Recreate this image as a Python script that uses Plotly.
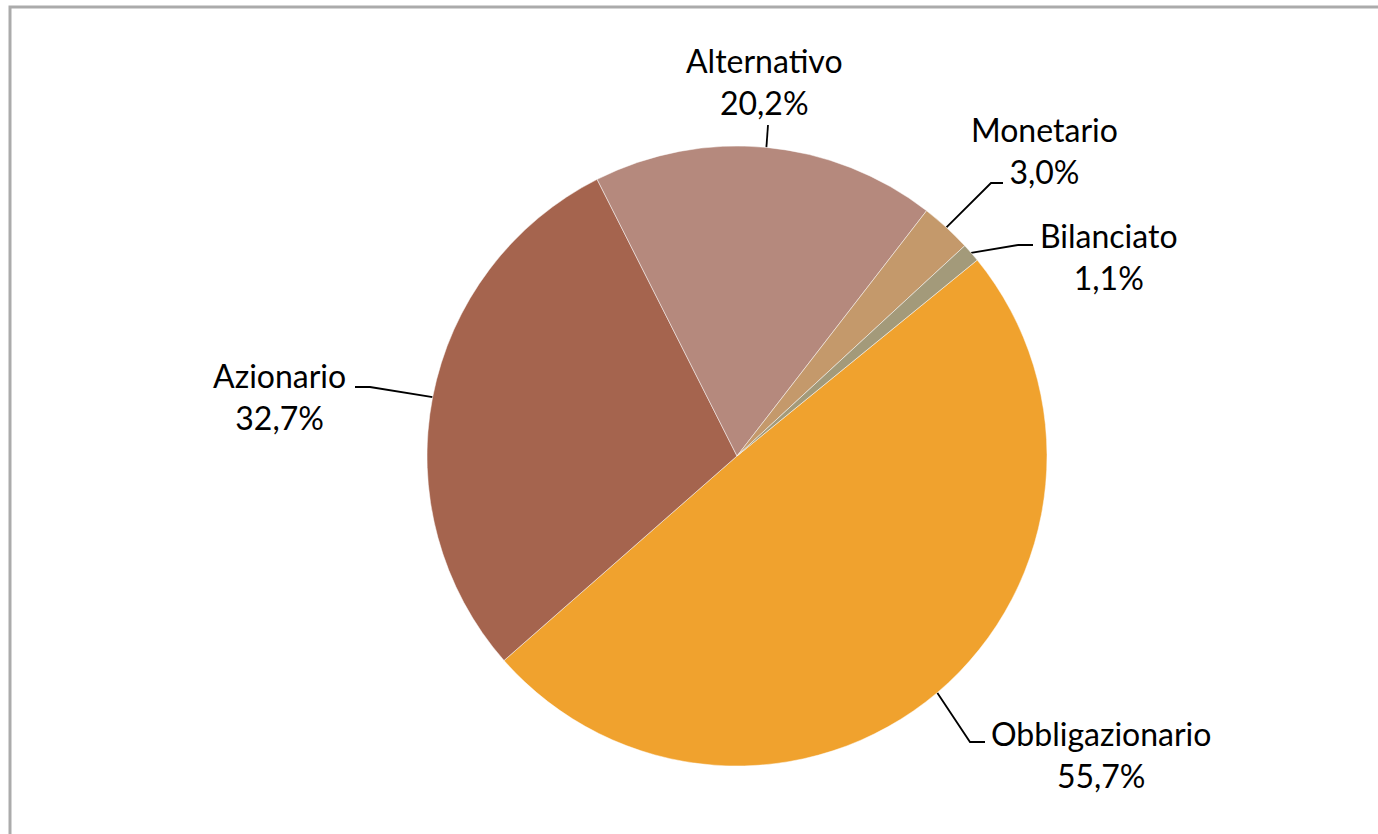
import math

import plotly.graph_objects as go

# dati
categorie = ["Obbligazionario", "Azionario", "Alternativo", "Monetario", "Bilanciato"]
valori = [55.7, 32.7, 20.2, 3.0, 1.1]
colori = ["#F0A22E", "#A5644E", "#B5897D", "#C4996B", "#A39A7A"]

# layout (pixel)
W, H = 1378, 834
CX, CY, R = 737, 456, 310
ROTAZIONE = 50.8  # gradi, senso orario dalle ore 12

# posizione etichette: (x centro, y centro, punti del gomito della linea guida)
etichette_pos = {
    "Obbligazionario": (1101, 754, [(985, 742), (970, 742)]),
    "Azionario": (279, 396, [(355, 387), (370, 387)]),
    "Alternativo": (764, 81, [(768, 125)]),
    "Monetario": (1044, 150, [(1003, 183), (991, 183)]),
    "Bilanciato": (1109, 256, [(1033, 245), (1018, 245)]),
}

FONT = "Lato, 'Open Sans', sans-serif"

fig = go.Figure()
fig.add_trace(
    go.Pie(
        labels=categorie,
        values=valori,
        marker=dict(colors=colori, line=dict(color="rgba(255,255,255,0.6)", width=0.8)),
        sort=False,
        direction="clockwise",
        rotation=ROTAZIONE,
        textinfo="none",
        hoverinfo="label+value",
        showlegend=False,
        domain=dict(
            x=[(CX - R) / W, (CX + R) / W],
            y=[1 - (CY + R) / H, 1 - (CY - R) / H],
        ),
    )
)

# linee guida e testi, calcolati dall'angolo medio di ogni fetta
totale = sum(valori)
cumulato = 0.0
annotazioni = []
for nome, v in zip(categorie, valori):
    medio = ROTAZIONE + (cumulato + v / 2) / totale * 360
    cumulato += v
    a = math.radians(medio)
    bordo = (CX + R * math.sin(a), CY - R * math.cos(a))
    tx, ty, gomito = etichette_pos[nome]
    punti = gomito + [bordo]
    fig.add_trace(
        go.Scatter(
            x=[p[0] for p in punti],
            y=[p[1] for p in punti],
            mode="lines",
            line=dict(color="#000000", width=1.8),
            hoverinfo="skip",
            showlegend=False,
        )
    )
    testo = f"{nome}<br>{str(v).replace('.', ',')}%"
    annotazioni.append(
        dict(
            x=tx, y=ty, xref="x", yref="y", text=testo, showarrow=False,
            xanchor="center", yanchor="middle", align="center",
            font=dict(family=FONT, size=32, color="#000000"),
        )
    )

fig.update_layout(
    width=W,
    height=H,
    margin=dict(l=0, r=0, t=0, b=0),
    paper_bgcolor="white",
    plot_bgcolor="rgba(0,0,0,0)",
    xaxis=dict(range=[0, W], visible=False, fixedrange=True),
    yaxis=dict(range=[H, 0], visible=False, fixedrange=True),
    annotations=annotazioni,
    shapes=[
        dict(
            type="rect", xref="paper", yref="paper",
            x0=10 / W, x1=1.02, y0=-0.02, y1=1 - 7 / H,
            line=dict(color="#ABABAB", width=3),
        )
    ],
)

# niente margine della pagina: la figura parte da (0, 0)
fig.write_html(
    "out.html",
    config={"displayModeBar": False},
    post_script="document.body.style.margin='0';",
)
